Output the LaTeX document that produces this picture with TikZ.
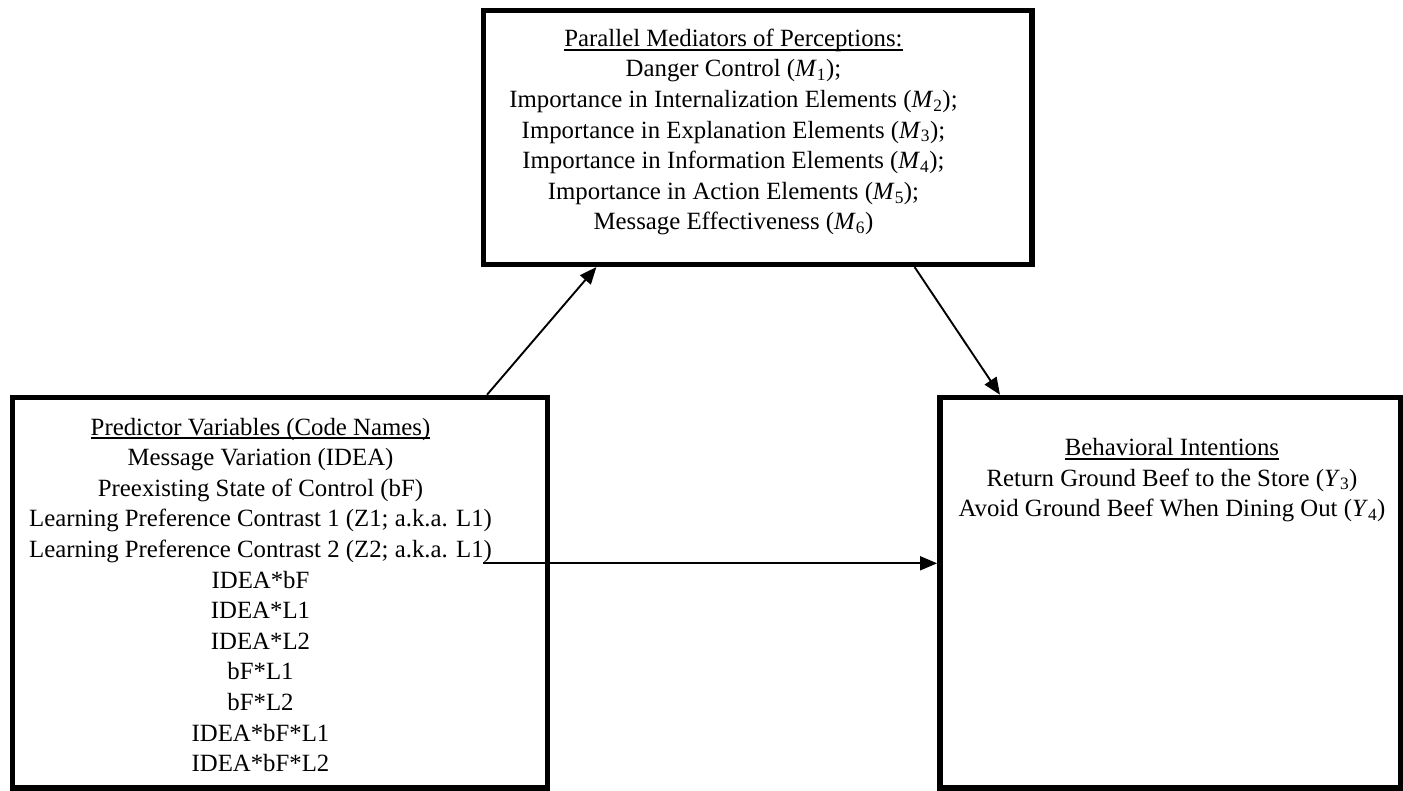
\documentclass[tikz,border=0pt]{standalone}
\usepackage{fontspec}
\setmainfont{Liberation Serif}
\usetikzlibrary{arrows.meta,calc}

% underlined heading with a rule set just below the baseline
\newcommand\titleline[1]{\setbox0\hbox{#1}\rlap{\rule[-4.3pt]{\wd0}{2pt}}\box0}
% italic variable with an upright subscript
\newcommand\var[2]{\textit{#1}\textsubscript{#2}}

\begin{document}
\begin{tikzpicture}[x=1pt,y=-1pt,
  box/.style={draw, line width=5.5pt, inner sep=0pt},
  txt/.style={align=center, inner sep=0pt, font=\fontsize{24.8}{30.6}\selectfont},
  link/.style={line width=1.9pt, -{Triangle[length=17pt,width=14pt]}}]

\useasboundingbox (0,0) rectangle (1403,791);

% boxes
\node[box, minimum width=548.3pt, minimum height=254pt] (med) at (757.85,137.3) {};
\node[box, minimum width=535pt, minimum height=390.5pt] (pred) at (280,592.75) {};
\node[box, minimum width=460.7pt, minimum height=390.5pt] (beh) at (1170.15,592.75) {};

% box contents (anchored on the baseline of the last line)
\node[txt, anchor=base] (medtext) at (733.5,230) {%
  \titleline{Parallel Mediators of Perceptions:}\\
  Danger Control (\var{M}{1});\\
  Importance in Internalization Elements (\var{M}{2});\\
  Importance in Explanation Elements (\var{M}{3});\\
  Importance in Information Elements (\var{M}{4});\\
  Importance in Action Elements (\var{M}{5});\\
  Message Effectiveness (\var{M}{6})};

\node[txt, anchor=base] (predtext) at (260.5,771.7) {%
  \titleline{Predictor Variables (Code Names)}\\
  Message Variation (IDEA)\\
  Preexisting State of Control (bF)\\
  Learning Preference Contrast 1 (Z1; a.k.a. L1)\\
  Learning Preference Contrast 2 (Z2; a.k.a. L1)\\
  IDEA*bF\\
  IDEA*L1\\
  IDEA*L2\\
  bF*L1\\
  bF*L2\\
  IDEA*bF*L1\\
  IDEA*bF*L2};

\node[txt, anchor=base] (behtext) at (1172,516.7) {%
  \titleline{Behavioral Intentions}\\
  Return Ground Beef to the Store (\var{Y}{3})\\
  Avoid Ground Beef When Dining Out (\var{Y}{4})};

% paths
\draw[link] ($(pred.north west)!0.883!(pred.north east)$)
         -- ($(med.south west)!0.2085!(med.south east)$);
\draw[link] ($(med.south west)!0.783!(med.south east)$)
         -- ($(beh.north west)!0.135!(beh.north east)$);
\coordinate (direct) at (483,563.3);
\draw[link] (direct) -- (direct -| beh.west);

\end{tikzpicture}
\end{document}
